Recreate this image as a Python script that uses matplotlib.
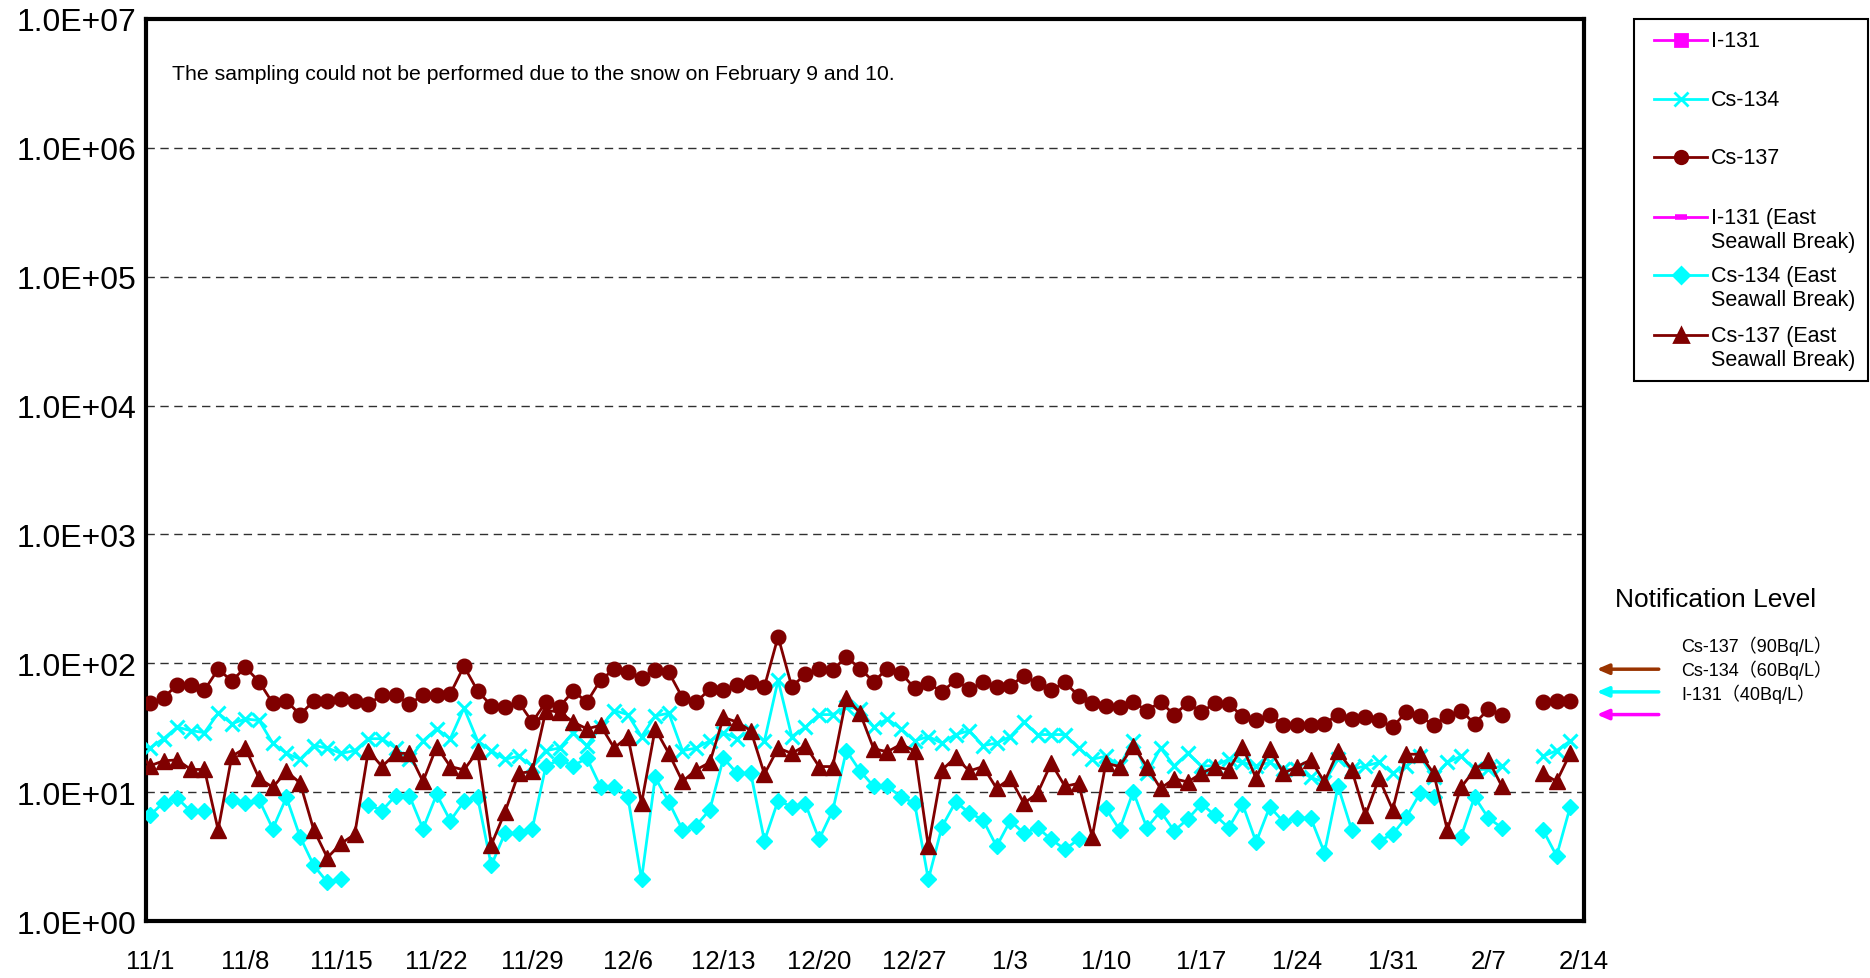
import numpy as np
import pandas as pd
import matplotlib
matplotlib.use("Agg")
import matplotlib.pyplot as plt
from matplotlib.lines import Line2D
from matplotlib.patches import Rectangle

plt.rcParams['font.family'] = ['Liberation Sans', 'DejaVu Sans']

nan = np.nan

# daily samples, 10/31 (clipped at the left edge) to 2/13; 2/9 and 2/10 missing
dates = pd.date_range('2013-10-31', '2014-02-13', freq='D')

cs137 = [52,
         49, 54, 68, 68, 62, 90, 73, 93, 72, 49,
         51, 40, 51, 51, 53, 51, 48, 57, 57, 48,
         57, 57, 58, 95, 61, 47, 46, 50, 35, 50,
         46, 61, 50, 74, 90, 86, 77, 89, 85, 54,
         50, 63, 62, 68, 72, 66, 161, 66, 82, 90,
         89, 112, 91, 72, 91, 84, 64, 70, 60, 74,
         63, 71, 66, 67, 80, 70, 62, 71, 56, 49,
         47, 46, 50, 43, 50, 40, 49, 42, 49, 48,
         39, 36, 40, 33, 33, 33, 34, 40, 37, 38,
         36, 32, 42, 39, 33, 39, 43, 34, 44, 40,
         nan, nan, 50, 51, 51]

cs134 = [24,
         22, 26, 32, 30, 29, 41, 34, 37, 36, 24,
         20, 18, 23, 22, 20, 21, 26, 26, 22, 18,
         25, 31, 26, 45, 25, 21, 18, 19, 16, 21,
         22, 29, 23, 32, 43, 40, 27, 39, 41, 21,
         22, 25, 29, 26, 30, 25, 74, 27, 32, 40,
         40, 46, 44, 32, 37, 31, 25, 27, 24, 28,
         30, 23, 24, 27, 35, 28, 28, 28, 22, 18,
         19, 16, 25, 14, 22, 16, 20, 16, 16, 18,
         17, 16, 17, 15, 15, 13, 12, 18, 15, 16,
         17, 14, 16, 19, 13, 17, 19, 15, 15, 16,
         nan, nan, 19, 21, 25]

cs137_esb = [22,
             16, 17.5, 17.8, 15, 15, 5.1, 19, 22, 12.8, 10.9,
             14.5, 11.8, 5.1, 3.1, 4.0, 4.7, 21, 15.8, 20, 20,
             12.1, 22.6, 15.8, 14.9, 20.7, 3.9, 7.0, 14, 14.5, 43,
             42, 35, 31, 33, 22, 27, 8.2, 31, 20, 12.1,
             14.9, 17, 38, 35, 30, 13.8, 22, 20, 23, 15.8,
             15.8, 54, 41, 21.7, 20.6, 23.5, 20.9, 3.8, 14.9, 18.6,
             14.6, 15.8, 10.7, 12.8, 8.2, 9.8, 16.8, 11.1, 11.7, 4.5,
             16.8, 15.8, 22.9, 15.8, 10.7, 12.7, 12.0, 14.0, 15.8, 14.9,
             22.6, 12.8, 21.7, 14.0, 15.8, 17.8, 12.0, 20.7, 14.9, 6.6,
             12.8, 7.3, 19.7, 19.7, 14.0, 5.1, 10.9, 14.9, 17.8, 11.1,
             nan, nan, 14.0, 12.1, 20]

cs134_esb = [7.6,
             6.6, 8.3, 9.0, 7.1, 7.2, nan, 8.7, 8.3, 8.7, 5.2,
             9.1, 4.5, 2.7, 2.0, 2.1, nan, 8.0, 7.2, 9.4, 9.4,
             5.2, 9.6, 6.0, 8.5, 9.1, 2.7, 4.8, 4.8, 5.2, 16,
             17.8, 16, 18.4, 11, 11, 9.2, 2.1, 13, 8.4, 5.1,
             5.5, 7.3, 18.4, 14, 14, 4.2, 8.6, 7.7, 8.1, 4.3,
             7.2, 21, 14.6, 11.1, 11.1, 9.2, 8.2, 2.1, 5.4, 8.4,
             6.9, 6.1, 3.8, 6.0, 4.8, 5.3, 4.3, 3.6, 4.3, nan,
             7.5, 5.1, 10.1, 5.3, 7.1, 5.0, 6.2, 8.1, 6.6, 5.3,
             8.1, 4.1, 7.7, 5.9, 6.3, 6.3, 3.4, 11.1, 5.1, nan,
             4.2, 4.7, 6.4, 9.8, 9.1, nan, 4.5, 9.2, 6.3, 5.3,
             nan, nan, 5.1, 3.2, 7.7]

tick_dates = pd.date_range('2013-11-01', '2014-02-14', freq='7D')
tick_labels = [f"{d.month}/{d.day}" for d in tick_dates]

levels = [90, 60, 40]
level_labels = ['Cs-137（90Bq/L）', 'Cs-134（60Bq/L）', 'I-131（40Bq/L）']

maroon = '#800000'
cyan = '#00FFFF'
magenta = '#FF00FF'
brown = '#993300'

fig = plt.figure(figsize=(18.7, 9.79), dpi=100)
ax = fig.add_axes([0.078, 0.0582, 0.769, 0.9214])

ax.plot(dates, cs134, color=cyan, lw=2, marker='x', ms=10.5, mew=2.2, zorder=3)
ax.plot(dates, cs137, color=maroon, lw=2, marker='o', ms=10.5, zorder=4)
ax.plot(dates, cs134_esb, color=cyan, lw=2, marker='D', ms=8.5, zorder=5)
ax.plot(dates, cs137_esb, color=maroon, lw=2, marker='^', ms=11, zorder=6)

ax.set_yscale('log')
ax.set_ylim(1, 1e7)
ax.set_yticks([10.0 ** k for k in range(8)])
ax.set_yticklabels([f"1.0E+{k:02d}" for k in range(8)], fontsize=23)
ax.minorticks_off()
ax.set_xlim(pd.Timestamp('2013-11-01') - pd.Timedelta(hours=7), pd.Timestamp('2014-02-14'))
ax.set_xticks(tick_dates)
ax.set_xticklabels(tick_labels, fontsize=18.5)
ax.tick_params(axis='y', length=0, pad=7)
ax.tick_params(axis='x', length=0, pad=20)
for k in range(1, 7):
    ax.axhline(10.0 ** k, color='#303030', lw=1.0, ls=(0, (6, 4)), zorder=1)
for s in ax.spines.values():
    s.set_linewidth(3)

ax.text(0.018, 0.939, 'The sampling could not be performed due to the snow on February 9 and 10.',
        transform=ax.transAxes, fontsize=15.3, va='center')

# notification level arrows, pointing at the level on the axis
for lv, c in zip(levels, [brown, cyan, magenta]):
    ax.annotate('', xy=(1.007, lv), xytext=(1.054, lv),
                xycoords=('axes fraction', 'data'), textcoords=('axes fraction', 'data'),
                arrowprops=dict(arrowstyle='-|>,head_length=0.7,head_width=0.3', color=c, lw=2.5),
                annotation_clip=False)

fig.text(0.8636, 0.3873, 'Notification Level', fontsize=19, va='center')
for i, lab in enumerate(level_labels):
    fig.text(0.899, 0.340 - i * 0.0247, lab, fontsize=13, va='center',
             family=['Liberation Sans', 'Noto Sans CJK JP'])

# legend drawn by hand so two-line labels keep the handle on the first line
fig.add_artist(Rectangle((0.8738, 0.6098), 0.1251, 0.3698, transform=fig.transFigure,
                         fill=False, ec='black', lw=1.5))
entries = [
    (magenta, 's', 9, ['I-131']),
    (cyan, 'x', 10, ['Cs-134']),
    (maroon, 'o', 9, ['Cs-137']),
    (magenta, '_', 9, ['I-131 (East', 'Seawall Break)']),
    (cyan, 'D', 8, ['Cs-134 (East', 'Seawall Break)']),
    (maroon, '^', 10, ['Cs-137 (East', 'Seawall Break)']),
]
ys = [0.9578, 0.8975, 0.8383, 0.7770, 0.7177, 0.6564]
for (c, m, ms, lines), y in zip(entries, ys):
    mew = 4 if m == '_' else 2
    fig.add_artist(Line2D([0.8845, 0.8987, 0.9128], [y, y, y], transform=fig.transFigure,
                          color=c, lw=2, marker=m, ms=ms, mew=mew, markevery=[1]))
    for j, t in enumerate(lines):
        fig.text(0.915, y - j * 0.0245, t, fontsize=15.5, va='center')

fig.savefig('out.png', dpi=100)
